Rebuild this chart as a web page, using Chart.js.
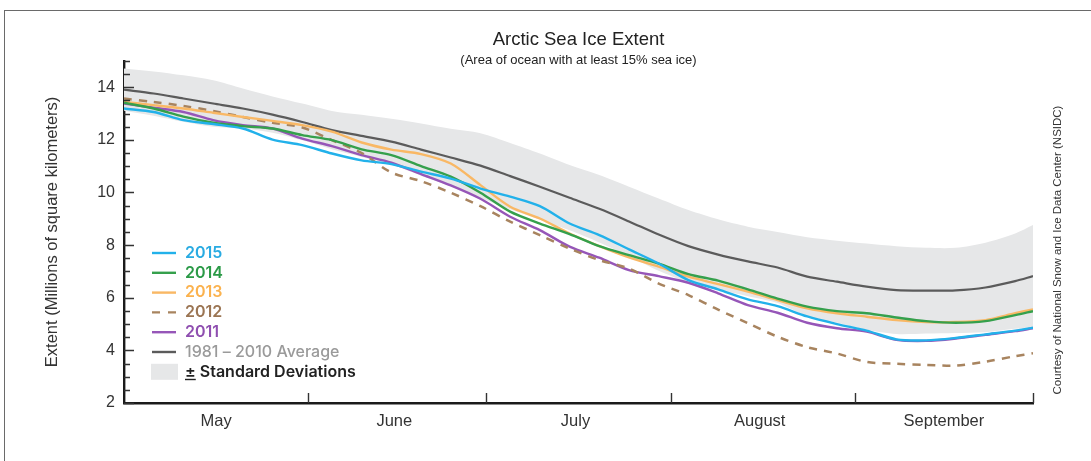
<!DOCTYPE html>
<html>
<head>
<meta charset="utf-8">
<script src="https://cdn.jsdelivr.net/npm/chart.js@4.4.1/dist/chart.umd.min.js"></script>
<style>
  html, body { margin: 0; padding: 0; background: #fff; }
  #wrap { position: relative; width: 1091px; height: 461px; overflow: hidden; }
  #frame { position: absolute; left: 4px; top: 10px; right: -4px; bottom: -4px;
           border-top: 1.5px solid #6a6a6a; border-left: 1.5px solid #6a6a6a; pointer-events: none; }
</style>
</head>
<body>
<div id="wrap">
  <canvas id="chart" width="1091" height="461"></canvas>
  <div id="frame"></div>
</div>
<script>
// days since May 1 (May 1 = 0, Oct 1 = 153)
const days = [0, 5, 10, 15, 20, 25, 30, 35, 40, 45, 50, 55, 60, 65, 70, 75,
  80, 85, 90, 95, 100, 105, 110, 115, 120, 125, 130, 135, 140, 145, 150, 153];

const monthNames = ['May', 'June', 'July', 'August', 'September'];
const monthMids = [15.5, 45.5, 76, 107, 138];
const monthStarts = [31, 61, 92, 123, 153];
const yTicks = [2, 4, 6, 8, 10, 12, 14];

// extent, millions of km2
const ext2015 = [13.19, 13.06, 12.75, 12.60, 12.43, 12.01, 11.80, 11.48, 11.22, 11.08, 10.79, 10.53, 10.15, 9.84, 9.48, 8.82,
  8.38, 7.84, 7.30, 6.67, 6.32, 5.94, 5.68, 5.29, 5.00, 4.75, 4.42, 4.38, 4.47, 4.61, 4.75, 4.86];
const ext2014 = [13.41, 13.19, 12.88, 12.65, 12.52, 12.43, 12.18, 11.99, 11.64, 11.42, 11.00, 10.60, 9.99, 9.27, 8.82, 8.42,
  7.96, 7.62, 7.30, 6.90, 6.65, 6.32, 5.97, 5.66, 5.49, 5.41, 5.25, 5.11, 5.05, 5.11, 5.34, 5.49];
const ext2013 = [13.44, 13.32, 13.19, 13.03, 12.87, 12.72, 12.56, 12.31, 11.90, 11.63, 11.46, 11.10, 10.28, 9.46, 9.01, 8.44,
  7.96, 7.53, 7.18, 6.80, 6.52, 6.23, 5.91, 5.60, 5.41, 5.28, 5.15, 5.08, 5.08, 5.15, 5.41, 5.56];
const ext2012 = [13.57, 13.44, 13.29, 13.10, 12.87, 12.65, 12.47, 11.99, 11.50, 10.76, 10.43, 9.99, 9.48, 8.89, 8.38, 7.87,
  7.43, 7.11, 6.54, 6.10, 5.55, 5.03, 4.52, 4.12, 3.88, 3.56, 3.49, 3.45, 3.42, 3.57, 3.78, 3.89];
const ext2011 = [13.38, 13.22, 13.06, 12.75, 12.56, 12.43, 12.05, 11.76, 11.42, 11.13, 10.70, 10.27, 9.76, 9.08, 8.57, 7.94,
  7.52, 7.05, 6.82, 6.57, 6.17, 5.72, 5.43, 5.05, 4.84, 4.71, 4.40, 4.36, 4.45, 4.59, 4.73, 4.84];
const avg8110 = [13.91, 13.76, 13.57, 13.38, 13.19, 12.96, 12.68, 12.37, 12.15, 11.93, 11.63, 11.33, 11.02, 10.62, 10.22, 9.80,
  9.38, 8.90, 8.40, 7.96, 7.64, 7.38, 7.15, 6.80, 6.61, 6.42, 6.29, 6.27, 6.28, 6.39, 6.63, 6.82];
const sdUpper = [14.71, 14.60, 14.45, 14.26, 13.95, 13.65, 13.38, 13.10, 12.95, 12.80, 12.62, 12.42, 12.25, 11.88, 11.48, 11.04,
  10.66, 10.22, 9.77, 9.33, 8.98, 8.70, 8.50, 8.30, 8.17, 8.06, 7.96, 7.90, 7.90, 8.09, 8.44, 8.76];
const sdLower = [13.11, 12.92, 12.69, 12.50, 12.43, 12.27, 11.98, 11.64, 11.35, 11.06, 10.64, 10.24, 9.79, 9.36, 8.96, 8.56,
  8.10, 7.58, 7.03, 6.59, 6.30, 6.06, 5.80, 5.30, 5.05, 4.78, 4.62, 4.64, 4.66, 4.69, 4.82, 4.88];

const FONT = '"Liberation Sans", Arial, sans-serif';
const LEGEND_FONT = 'Inter, "Noto Sans", sans-serif';

const toPoints = vals => days.map((d, i) => ({ x: d, y: vals[i] }));

function line(label, vals, color, textColor, extra) {
  return Object.assign({
    label: label,
    data: toPoints(vals),
    borderColor: color,
    borderWidth: 2.4,
    pointRadius: 0,
    tension: 0.3,
    fill: false,
    legendText: textColor
  }, extra || {});
}

// draws month ticks and the 0.5 step y ticks inside the plot
const insideTicks = {
  id: 'insideTicks',
  afterDatasetsDraw(chart) {
    const { ctx, chartArea, scales: { x, y } } = chart;
    ctx.save();
    ctx.strokeStyle = '#333';
    ctx.lineWidth = 1.4;
    ctx.beginPath();
    for (let v = 2; v <= 15; v += 0.5) {
      const py = Math.round(y.getPixelForValue(v)) + 0.5;
      const len = v % 2 === 0 ? 10 : 6;
      ctx.moveTo(chartArea.left, py);
      ctx.lineTo(chartArea.left + len, py);
    }
    monthStarts.forEach(d => {
      const px = Math.round(x.getPixelForValue(d)) + 0.5;
      ctx.moveTo(px, chartArea.bottom);
      ctx.lineTo(px, chartArea.bottom - 10);
    });
    ctx.stroke();
    ctx.restore();
  }
};

// legend sits inside the plot, bottom-left
const insideLegend = {
  id: 'insideLegend',
  afterDraw(chart) {
    const ctx = chart.ctx;
    const x0 = 152, x1 = 176, tx = 185;
    let y = 253;
    ctx.save();
    ctx.textBaseline = 'middle';
    chart.data.datasets.forEach(ds => {
      if (!ds.legendText) return;
      if (ds.bandLegend) {
        ctx.fillStyle = ds.backgroundColor;
        ctx.fillRect(x0 - 1, y - 8, x1 - x0 + 3, 16);
        ctx.font = '600 16px ' + LEGEND_FONT;
        ctx.fillStyle = ds.legendText;
        const pm = '±';
        ctx.fillText(pm, tx, y);
        const w = ctx.measureText(pm).width;
        ctx.fillRect(tx, y + 7, w, 1.4);
        ctx.fillText(' Standard Deviations', tx + w, y);
      } else {
        ctx.strokeStyle = ds.borderColor;
        ctx.lineWidth = 2.4;
        ctx.setLineDash(ds.borderDash ? [8, 8] : []);
        ctx.beginPath();
        ctx.moveTo(x0, y);
        ctx.lineTo(x1, y);
        ctx.stroke();
        ctx.setLineDash([]);
        ctx.font = (ds.avgLegend ? '500' : '600') + ' 16px ' + LEGEND_FONT;
        ctx.fillStyle = ds.legendText;
        ctx.fillText(ds.label, tx, y);
      }
      y += 19.8;
    });
    ctx.restore();
  }
};

// credit line on the right edge
const credit = {
  id: 'credit',
  afterDraw(chart) {
    const ctx = chart.ctx;
    ctx.save();
    ctx.translate(1058, 250);
    ctx.rotate(-Math.PI / 2);
    ctx.font = '11.5px ' + FONT;
    ctx.fillStyle = '#333';
    ctx.textAlign = 'center';
    ctx.textBaseline = 'middle';
    ctx.fillText('Courtesy of National Snow and Ice Data Center (NSIDC)', 0, 0);
    ctx.restore();
  }
};

new Chart(document.getElementById('chart'), {
  type: 'line',
  data: {
    datasets: [
      line('2015', ext2015, '#22b1ea', '#29abe2'),
      line('2014', ext2014, '#35a04c', '#2b9a47'),
      line('2013', ext2013, '#f9b865', '#fbb24e'),
      line('2012', ext2012, '#a8845f', '#9b7553', { borderDash: [8, 7], borderWidth: 2.5 }),
      line('2011', ext2011, '#9656b8', '#8f4fb0'),
      line('1981 – 2010 Average', avg8110, '#5b5b5b', '#9a9a9a', { borderWidth: 2.2, avgLegend: true }),
      line('± Standard Deviations', sdUpper, 'rgba(0,0,0,0)', '#222',
        { backgroundColor: '#e6e7e8', fill: '+1', borderWidth: 0, bandLegend: true }),
      line('lower', sdLower, 'rgba(0,0,0,0)', null, { borderWidth: 0 })
    ]
  },
  options: {
    responsive: false,
    animation: false,
    layout: { padding: { left: 40, right: 58, top: 10, bottom: 0 } },
    plugins: {
      legend: { display: false },
      tooltip: { enabled: false },
      title: {
        display: true,
        text: 'Arctic Sea Ice Extent',
        fullSize: false,
        color: '#222',
        font: { family: FONT, size: 18.5, weight: 'normal', lineHeight: 1.2 },
        padding: { top: 18.5, bottom: 0 }
      },
      subtitle: {
        display: true,
        text: '(Area of ocean with at least 15% sea ice)',
        fullSize: false,
        color: '#222',
        font: { family: FONT, size: 13, lineHeight: 1.2 },
        padding: { top: 2, bottom: -7.4 }
      }
    },
    scales: {
      x: {
        type: 'linear',
        min: 0,
        max: 153,
        grid: { display: false, drawTicks: false },
        border: { display: true, color: '#1a1a1a', width: 2.4 },
        afterBuildTicks: s => { s.ticks = monthMids.map(v => ({ value: v })); },
        afterFit: s => { s.height = 58; },
        ticks: {
          autoSkip: false,
          maxRotation: 0,
          padding: 9,
          color: '#333',
          font: { family: FONT, size: 16.5 },
          callback: (v, i) => monthNames[i]
        }
      },
      y: {
        min: 2,
        max: 15,
        grid: { display: false, drawTicks: false },
        border: { display: true, color: '#1a1a1a', width: 2.4 },
        afterBuildTicks: s => { s.ticks = yTicks.map(v => ({ value: v })); },
        afterFit: s => { s.width = 84; },
        ticks: {
          padding: 9,
          color: '#333',
          font: { family: FONT, size: 16 }
        },
        title: {
          display: true,
          text: 'Extent (Millions of square kilometers)',
          color: '#333',
          font: { family: FONT, size: 16.5 },
          padding: { top: 3, bottom: 0 }
        }
      }
    }
  },
  plugins: [insideTicks, insideLegend, credit]
});
</script>
</body>
</html>
